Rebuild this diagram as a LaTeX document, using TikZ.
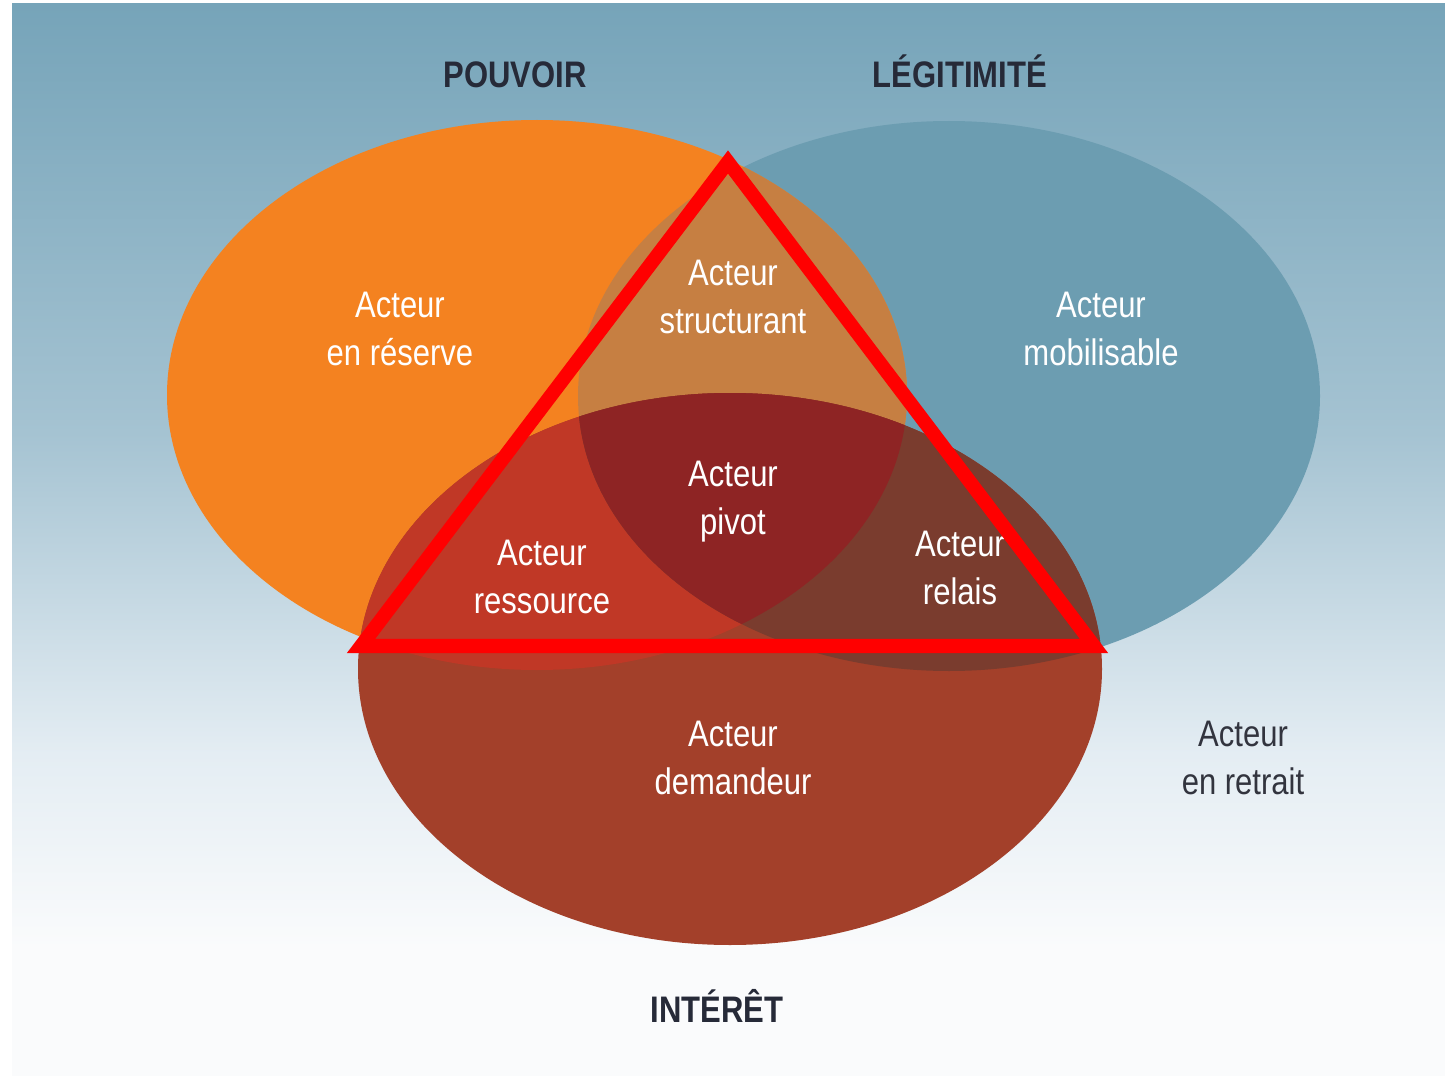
\documentclass[tikz,border=0pt]{standalone}
\usepackage{fontspec}
\setmainfont{Liberation Sans}
\newfontfamily\narrowfont[FakeStretch=0.84]{Liberation Sans}
\definecolor{bgtop}{RGB}{118,164,185}
\definecolor{bgmid}{RGB}{165,195,210}
\definecolor{bglow}{RGB}{228,237,243}
\definecolor{bgbot}{RGB}{250,251,252}
\definecolor{orangeC}{RGB}{244,130,32}
\definecolor{blueC}{RGB}{108,157,177}
\definecolor{obC}{RGB}{198,127,66}
\definecolor{redC}{RGB}{163,64,42}
\definecolor{roC}{RGB}{192,56,38}
\definecolor{rbC}{RGB}{122,60,46}
\definecolor{tripleC}{RGB}{142,36,36}
\definecolor{titleC}{RGB}{38,42,56}
\definecolor{darktext}{RGB}{50,52,62}
\definecolor{triC}{RGB}{255,0,0}
\pgfdeclareverticalshading{bgshade}{100bp}{color(0bp)=(bgbot); color(31bp)=(bgbot); color(40bp)=(bglow); color(55bp)=(bgmid); color(75bp)=(bgtop); color(100bp)=(bgtop)}
\begin{document}
\begin{tikzpicture}[x=0.01cm,y=-0.01cm,
  lbl/.style={font=\narrowfont\fontsize{10.5}{13.7}\selectfont, text=white, align=center, inner sep=0pt},
  darklbl/.style={lbl, text=darktext},
  title/.style={font=\narrowfont\bfseries\fontsize{10.5}{13.7}\selectfont, text=titleC, inner sep=0pt, anchor=base},
  tri/.style={draw=triC, line width=0.14cm, line join=miter}]
\useasboundingbox (0,0) rectangle (1445,1076);
\fill[white] (0,0) rectangle (1445,1076);
\shade[shading=bgshade] (12,4) rectangle (1445,1076);
% circles
\def\orangeE{(537,395) ellipse [x radius=370, y radius=275]}
\def\blueE{(949,396) ellipse [x radius=371, y radius=275]}
\def\redE{(730,669) ellipse [x radius=372, y radius=276]}
\fill[blueC] \blueE;
\fill[orangeC] \orangeE;
\begin{scope}
  \clip \orangeE;
  \fill[obC] \blueE;
\end{scope}
\fill[redC] \redE;
\begin{scope}
  \clip \redE;
  \fill[roC] \orangeE;
  \fill[rbC] \blueE;
  \clip \orangeE;
  \fill[tripleC] \blueE;
\end{scope}
% titles
\node[title] (pouvoir) at (515,88) {POUVOIR};
\node[title] (legitimite) at (960,88) {LÉGITIMITÉ};
\node[title] (interet) at (717,1022) {INTÉRÊT};
% labels
\node[lbl] (reserve) at (400,329) {Acteur\\en réserve};
\node[lbl] (structurant) at (733,297) {Acteur\\structurant};
\node[lbl] (mobilisable) at (1101,329) {Acteur\\mobilisable};
\node[lbl] (pivot) at (733,502) {Acteur\\pivot};
\node[lbl] (ressource) at (542,577) {Acteur\\ressource};
\node[lbl] (relais) at (960,568) {Acteur\\relais};
\node[lbl] (demandeur) at (733,758) {Acteur\\demandeur};
\node[darklbl] (retrait) at (1243,758) {Acteur\\en retrait};
% triangle
\coordinate (apex) at (728,162);
\coordinate (bl) at (361,646);
\coordinate (br) at (1094,646);
\draw[tri] (apex) -- (bl) -- (br) -- cycle;
\end{tikzpicture}
\end{document}
